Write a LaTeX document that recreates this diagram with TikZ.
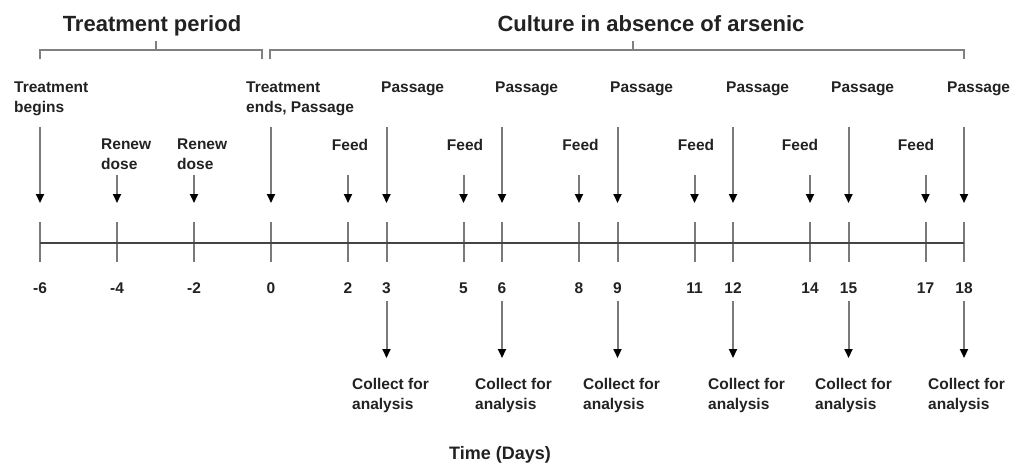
\documentclass[tikz,border=0pt]{standalone}
\usepackage{fontspec}
\setmainfont{Liberation Sans}
\usetikzlibrary{arrows.meta}
\definecolor{txt}{HTML}{222222}
\definecolor{shaft}{HTML}{7A7A7A}
\definecolor{brk}{HTML}{808080}
\definecolor{axisc}{HTML}{444444}
\tikzset{
  title/.style={font=\fontsize{22}{26}\selectfont\bfseries, text=txt, inner sep=0pt, anchor=base},
  lbl/.style={font=\fontsize{15.5}{20}\selectfont\bfseries, text=txt, inner sep=0pt, align=left, anchor=north west},
  num/.style={font=\fontsize{15.5}{20}\selectfont\bfseries, text=txt, inner sep=0pt, anchor=base},
  brace/.style={draw=brk, line width=2pt},
  tickline/.style={draw=shaft, line width=2pt},
  axisline/.style={draw=axisc, line width=2.5pt},
  arr/.style={draw=shaft, line width=2pt, -{Triangle[width=8pt,length=9pt,color=black]}},
}
\begin{document}
\begin{tikzpicture}[x=1pt,y=-1pt]
\useasboundingbox (0,0) rectangle (1011,466);
\fill[white] (0,0) rectangle (1011,466);

% titles and brackets
\node[title] (tp) at (152,31) {Treatment period};
\node[title] (cu) at (651,31) {Culture in absence of arsenic};
\coordinate (b1a) at (40,59); \coordinate (b1b) at (40,50);
\coordinate (b1c) at (262,50); \coordinate (b1d) at (262,59);
\coordinate (b1m) at (156,50); \coordinate (b1t) at (156,41);
\draw[brace] (b1a) -- (b1b) -- (b1c) -- (b1d);
\draw[brace] (b1m) -- (b1t);
\coordinate (b2a) at (270,59); \coordinate (b2b) at (270,50);
\coordinate (b2c) at (964,50); \coordinate (b2d) at (964,59);
\coordinate (b2m) at (633,50); \coordinate (b2t) at (633,41);
\draw[brace] (b2a) -- (b2b) -- (b2c) -- (b2d);
\draw[brace] (b2m) -- (b2t);

% axis ticks and numbers
\foreach \d/\n in {-6/m6,-4/m4,-2/m2,0/p0,2/p2,3/p3,5/p5,6/p6,8/p8,9/p9,11/p11,12/p12,14/p14,15/p15,17/p17,18/p18}{
  \coordinate (t\n) at ({271+38.5*\d},243);
  \coordinate (tt\n) at ({271+38.5*\d},222);
  \coordinate (tb\n) at ({271+38.5*\d},262);
  \draw[tickline] (tt\n) -- (tb\n);
  \node[num] (n\n) at ({271+38.5*\d},293.5) {\d};
}
\draw[axisline] (tm6) -- (tp18);

% long arrows (top)
\foreach \d/\n in {-6/m6,0/p0,3/p3,6/p6,9/p9,12/p12,15/p15,18/p18}{
  \coordinate (ls\n) at ({271+38.5*\d},127);
  \coordinate (le\n) at ({271+38.5*\d},203);
  \draw[arr] (ls\n) -- (le\n);
}
% short arrows (top)
\foreach \d/\n in {-4/m4,-2/m2,2/p2,5/p5,8/p8,11/p11,14/p14,17/p17}{
  \coordinate (ss\n) at ({271+38.5*\d},175);
  \coordinate (se\n) at ({271+38.5*\d},203);
  \draw[arr] (ss\n) -- (se\n);
}
% bottom arrows
\foreach \d/\n in {3/p3,6/p6,9/p9,12/p12,15/p15,18/p18}{
  \coordinate (bs\n) at ({271+38.5*\d},301);
  \coordinate (be\n) at ({271+38.5*\d},358);
  \draw[arr] (bs\n) -- (be\n);
}

% top labels
\node[lbl] (lbeg) at (14,78) {\strut Treatment\\begins};
\node[lbl] (lend) at (246,78) {\strut Treatment\\ends, Passage};
\foreach \x/\n in {381/a,495/b,610/c,726/d,831/e,947/f}{
  \node[lbl] (pas\n) at (\x,78) {\strut Passage};
}
\node[lbl] (ren1) at (101,135) {\strut Renew\\dose};
\node[lbl] (ren2) at (177,135) {\strut Renew\\dose};
\foreach \x/\n in {350/a,465/b,580.5/c,696/d,800/e,916/f}{
  \node[num] (feed\n) at (\x,150) {Feed};
}
% collect labels
\foreach \x/\n in {352/a,475/b,583/c,708/d,815/e,928/f}{
  \node[lbl] (col\n) at (\x,375) {\strut Collect for\\analysis};
}
\node[font=\fontsize{18}{22}\selectfont\bfseries, text=txt, inner sep=0pt, anchor=base] (time) at (500,459) {Time (Days)};
\end{tikzpicture}
\end{document}
